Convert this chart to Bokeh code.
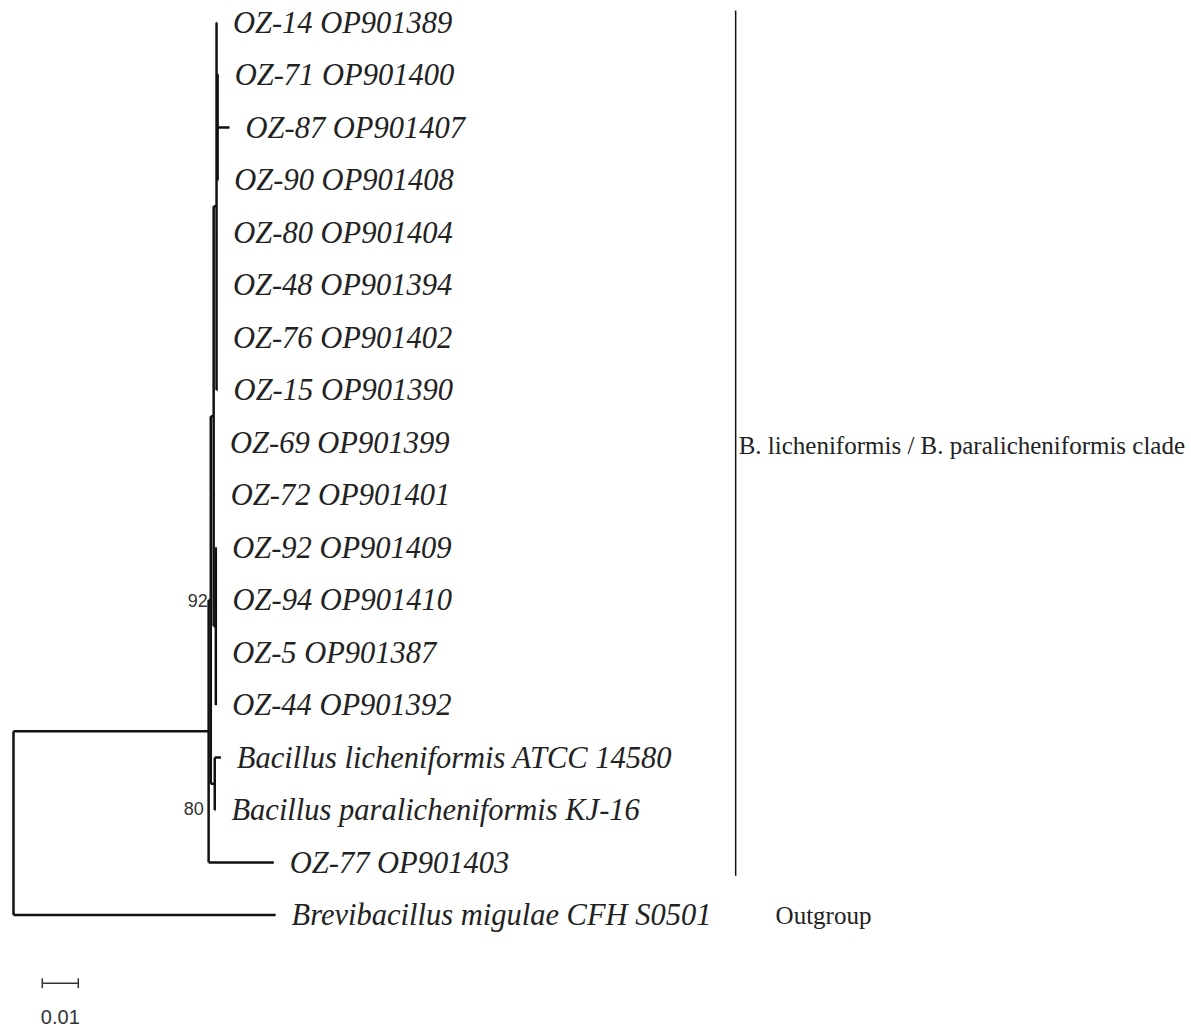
from bokeh.plotting import figure
from bokeh.models import Range1d, ColumnDataSource
from bokeh.embed import file_html
from bokeh.resources import INLINE
from bokeh.core.properties import value

# ---------------- data ----------------
node_names = ["root", "A", "B", "C", "D", "E", "G", "H",
              "OZ-14", "OZ-71", "OZ-87", "OZ-90", "OZ-80", "OZ-48", "OZ-76", "OZ-15",
              "OZ-69", "OZ-72", "OZ-92", "OZ-94", "OZ-5", "OZ-44",
              "Blich", "Bpara", "OZ-77", "Brev"]
node_parents = [None, "root", "A", "B", "B", "C", "C", "E",
                "E", "H", "H", "H", "E", "E", "E", "E",
                "C", "C", "G", "G", "G", "G",
                "D", "D", "A", "root"]
branch_lengths = [0.0, 0.0542, 0.0006, 0.0008, 0.0011, 0.0008, 0.0006, 0.0003,
                  0.0001, 0.0003, 0.0033, 0.0002, 0.0002, 0.0001, 0.0001, 0.0003,
                  0.0001, 0.0003, 0.0001, 0.0002, 0.0001, 0.0001,
                  0.0017, 0.0002, 0.0181, 0.0728]

leaf_order = ["OZ-14", "OZ-71", "OZ-87", "OZ-90", "OZ-80", "OZ-48", "OZ-76", "OZ-15",
              "OZ-69", "OZ-72", "OZ-92", "OZ-94", "OZ-5", "OZ-44",
              "Blich", "Bpara", "OZ-77", "Brev"]
leaf_labels = ["OZ-14 OP901389", "OZ-71 OP901400", "OZ-87 OP901407", "OZ-90 OP901408",
               "OZ-80 OP901404", "OZ-48 OP901394", "OZ-76 OP901402", "OZ-15 OP901390",
               "OZ-69 OP901399", "OZ-72 OP901401", "OZ-92 OP901409", "OZ-94 OP901410",
               "OZ-5 OP901387", "OZ-44 OP901392",
               "Bacillus licheniformis ATCC 14580", "Bacillus paralicheniformis KJ-16",
               "OZ-77 OP901403", "Brevibacillus migulae CFH S0501"]

bootstrap_nodes = ["B", "D"]
bootstrap_values = ["92", "80"]

clade_label = "B. licheniformis / B. paralicheniformis clade"
clade_first, clade_last = "OZ-14", "OZ-77"
clade_bar_x = 0.2006
outgroup_label = "Outgroup"
outgroup_leaf = "Brev"
outgroup_x = 0.2117

scale_length = 0.01
scale_start = 0.008
scale_text = "0.01"

# ---------------- layout of the tree ----------------
parent = dict(zip(node_names, node_parents))
blen = dict(zip(node_names, branch_lengths))
children = {n: [] for n in node_names}
for n, p_ in zip(node_names, node_parents):
    if p_ is not None:
        children[p_].append(n)

xpos = {}
def set_x(n, base):
    xpos[n] = base + blen[n]
    for c in children[n]:
        set_x(c, xpos[n])
set_x("root", 0.0)

ypos = {leaf: i for i, leaf in enumerate(leaf_order)}
def set_y(n):
    if n in ypos:
        return ypos[n]
    ys = [set_y(c) for c in children[n]]
    ypos[n] = (min(ys) + max(ys)) / 2.0
    return ypos[n]
set_y("root")

hx0, hx1, hy = [], [], []
for n in node_names:
    if parent[n] is not None:
        hx0.append(xpos[parent[n]]); hx1.append(xpos[n]); hy.append(ypos[n])
vx, vy0, vy1 = [], [], []
for n in node_names:
    if children[n]:
        ys = [ypos[c] for c in children[n]]
        vx.append(xpos[n]); vy0.append(min(ys)); vy1.append(max(ys))

# ---------------- figure ----------------
W, H = 1190, 1031
PX = 3600.0      # pixels per substitution unit
ROW = 52.5       # pixels per leaf row
x0_px, y0_px = 13.0, 22.0
p = figure(width=W, height=H, output_backend="svg", toolbar_location=None,
           x_range=Range1d(-x0_px / PX, (W - x0_px) / PX),
           y_range=Range1d((H - y0_px) / ROW, -y0_px / ROW),
           min_border=0, background_fill_color="white", border_fill_color="white")
p.axis.visible = False
p.grid.visible = False
p.outline_line_color = None

line_col = "#111111"
p.segment(x0=hx0, y0=hy, x1=hx1, y1=hy, line_color=line_col, line_width=2.5)
p.segment(x0=vx, y0=vy0, x1=vx, y1=vy1, line_color=line_col, line_width=2.5)

# leaf labels
src = ColumnDataSource(dict(x=[xpos[l] for l in leaf_order],
                            y=[ypos[l] for l in leaf_order],
                            t=leaf_labels))
p.text(x="x", y="y", text="t", source=src, x_offset=16,
       text_font=value("Liberation Serif"), text_font_style="italic",
       text_font_size="30.5px", text_baseline="middle", text_align="left",
       text_color="#222222")

# bootstrap values
bx_off = [-3, -11]
by_off = [0, 25]
bsrc = ColumnDataSource(dict(x=[xpos[n] for n in bootstrap_nodes],
                             y=[ypos[n] for n in bootstrap_nodes],
                             t=bootstrap_values, xo=bx_off, yo=by_off))
p.text(x="x", y="y", text="t", source=bsrc, x_offset="xo", y_offset="yo",
       text_font=value("Liberation Sans"), text_font_size="18px",
       text_baseline="middle", text_align="right", text_color="#333333")

# clade bar and labels
ytop = ypos[clade_first] - 0.23
ybot = ypos[clade_last] + 0.25
p.segment(x0=[clade_bar_x], y0=[ytop], x1=[clade_bar_x], y1=[ybot],
          line_color=line_col, line_width=1.5)
p.text(x=[clade_bar_x], y=[(ytop + ybot) / 2 + 0.05], text=[clade_label], x_offset=3,
       text_font=value("Liberation Serif"), text_font_size="25px",
       text_baseline="middle", text_align="left", text_color="#222222")
p.text(x=[outgroup_x], y=[ypos[outgroup_leaf]], text=[outgroup_label],
       text_font=value("Liberation Serif"), text_font_size="25px",
       text_baseline="middle", text_align="left", text_color="#222222")

# scale bar
sy = 18.3
tick = 5.0 / ROW
p.segment(x0=[scale_start], y0=[sy], x1=[scale_start + scale_length], y1=[sy],
          line_color="#333333", line_width=1.5)
p.segment(x0=[scale_start, scale_start + scale_length], y0=[sy - tick, sy - tick],
          x1=[scale_start, scale_start + scale_length], y1=[sy + tick, sy + tick],
          line_color="#333333", line_width=1.5)
p.text(x=[scale_start + scale_length / 2], y=[18.95], text=[scale_text],
       text_font=value("Liberation Sans"), text_font_size="20px",
       text_baseline="middle", text_align="center", text_color="#333333")

open("out.html", "w").write(file_html(p, INLINE))
